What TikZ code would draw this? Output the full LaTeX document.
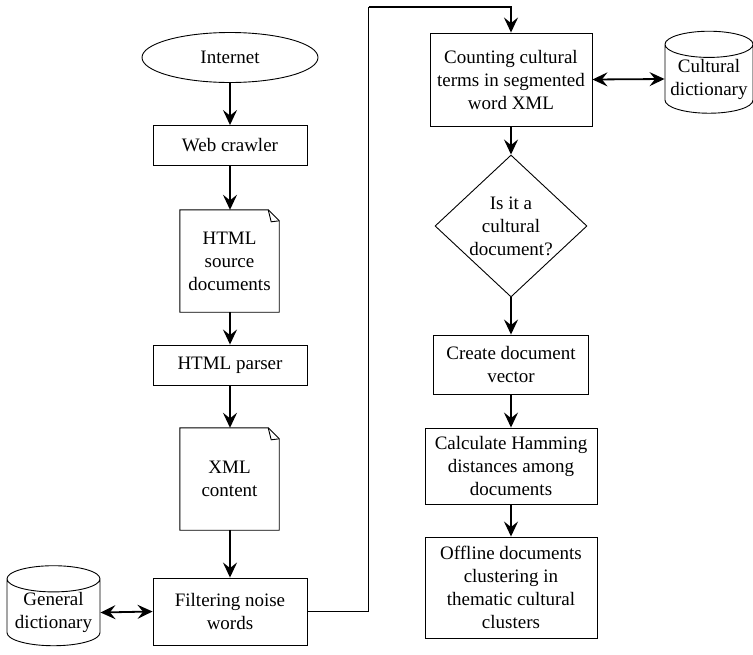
\documentclass[tikz,border=0pt]{standalone}
\usepackage{fontspec}
\setmainfont{Liberation Serif}
\usetikzlibrary{shapes.geometric,arrows.meta}

% folded-corner page drawn around an existing node
\newcommand{\pageoutline}[1]{%
  \draw[thin] (#1.north west) -- ([xshift=-11pt]#1.north east)
    -- ([yshift=-11pt]#1.north east) -- (#1.south east)
    -- (#1.south west) -- cycle;
  \draw[thin] ([xshift=-11pt]#1.north east)
    .. controls ([xshift=-10pt,yshift=-6pt]#1.north east) .. ([xshift=-8pt,yshift=-12pt]#1.north east)
    -- ([yshift=-11pt]#1.north east);
}

\begin{document}
\begin{tikzpicture}[x=1pt,y=-1pt,
  every node/.style={font=\fontsize{19}{23}\selectfont, align=center},
  thin/.style={line width=0.9pt},
  stepbox/.style={draw, line width=0.9pt, inner sep=2pt},
  startend/.style={draw, ellipse, line width=0.9pt, inner sep=0pt},
  pagenode/.style={inner sep=0pt},
  store/.style={draw, cylinder, shape border rotate=90, aspect=0.34,
    line width=0.9pt, inner sep=0pt},
  decision/.style={draw, diamond, line width=0.9pt, inner sep=0pt, aspect=1.07},
  flow/.style={line width=1.8pt, -{Stealth[length=15pt,width=14pt,inset=5.5pt]}},
  twoway/.style={line width=1.8pt,
    {Stealth[length=15pt,width=14pt,inset=5.5pt]}-{Stealth[length=15pt,width=14pt,inset=5.5pt]}},
  link/.style={line width=1.8pt}
]
\useasboundingbox (0,0) rectangle (753,654);

% left column
\node[startend, minimum width=176pt, minimum height=50pt] (inet) at (230,57.5) {Internet};
\node[stepbox, minimum width=154pt, minimum height=40pt] (crawl) at (230,145.5) {Web crawler};
\node[pagenode, minimum width=99pt, minimum height=102pt] (html) at (229.5,261) {HTML\\source\\documents};
\pageoutline{html}
\node[stepbox, minimum width=154pt, minimum height=40pt] (parser) at (230,365) {HTML parser};
\node[pagenode, minimum width=99pt, minimum height=102pt] (xml) at (229.5,479) {XML\\content};
\pageoutline{xml}
\node[stepbox, minimum width=154pt, minimum height=67pt] (filter) at (230,611.5) {Filtering noise\\words};
\node[store, minimum width=93pt, minimum height=79pt] (gdict) at (53.5,612.5) {General\\dictionary};

% right column
\node[stepbox, minimum width=162pt, minimum height=93pt] (count) at (511,79.5) {Counting cultural\\terms in segmented\\word XML};
\node[store, minimum width=88pt, minimum height=82pt] (cdict) at (709,79) {Cultural\\dictionary};
\node[decision, minimum width=152pt, minimum height=142pt] (decide) at (511,226) {Is it a\\cultural\\document?};
\node[stepbox, minimum width=155pt, minimum height=59pt] (create) at (511,364.5) {Create document\\vector};
\node[stepbox, minimum width=172pt, minimum height=76pt] (calc) at (511,466) {Calculate Hamming\\distances among\\documents};
\node[stepbox, minimum width=172pt, minimum height=101pt] (offline) at (511,587.5) {Offline documents\\clustering in\\thematic cultural\\clusters};

\coordinate (bend) at (368.5,7);

% connectors
\draw[flow] (inet) -- (crawl);
\draw[flow] (crawl.south) -- (crawl.south |- html.north);
\draw[flow] (parser.north |- html.south) -- (parser.north);
\draw[flow] (parser.south) -- (parser.south |- xml.north);
\draw[flow] (filter.north |- xml.south) -- (filter.north);
\draw[twoway] (gdict.east) -- (filter.west);
\draw[link] (filter.east) -| (bend);
\draw[flow] (bend) -| (count.north);
\draw[twoway] (count.east) -- (cdict.west);
\draw[flow] (count) -- (decide);
\draw[flow] (decide) -- (create);
\draw[flow] (create) -- (calc);
\draw[flow] (calc) -- (offline);
\end{tikzpicture}
\end{document}
